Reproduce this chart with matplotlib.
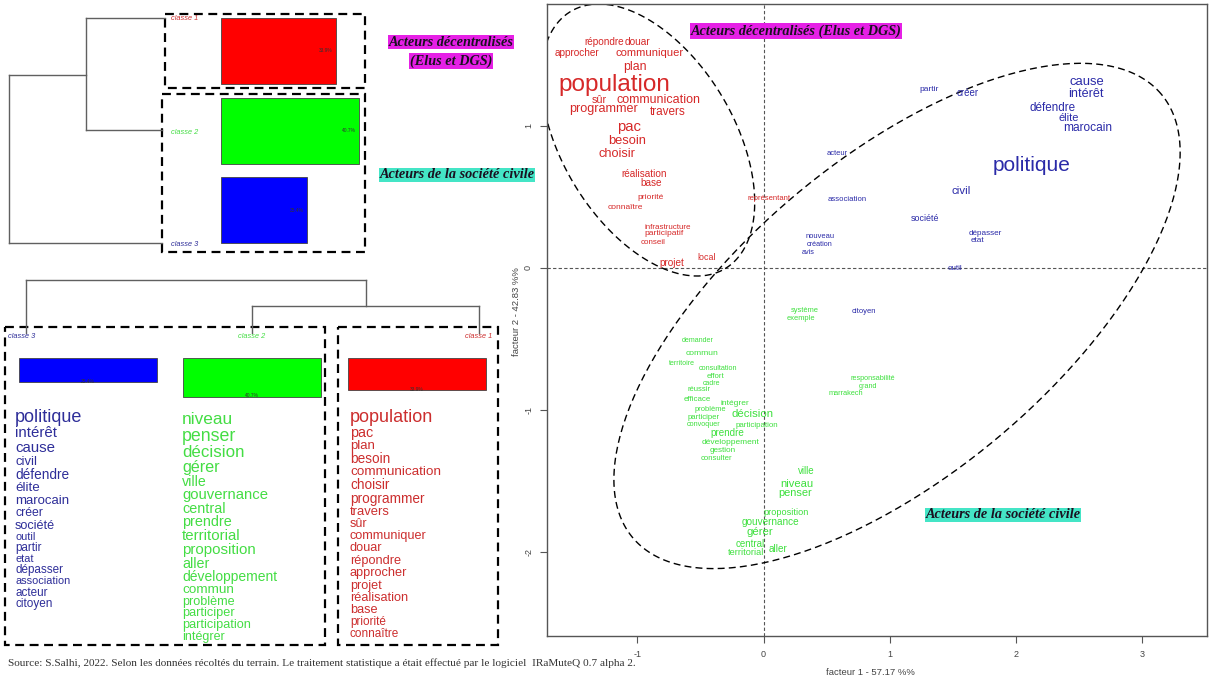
import numpy as np
import matplotlib
matplotlib.use("Agg")
import matplotlib.pyplot as plt
from matplotlib.patches import Rectangle

plt.rcParams['font.family'] = ['Liberation Sans', 'DejaVu Sans']
plt.rcParams['axes.unicode_minus'] = False

# ---------------- data ----------------
class_names = ["classe 1", "classe 2", "classe 3"]
class_pct = [33.9, 40.7, 25.4]
bar_colors = ["#ff0000", "#00ff00", "#0000ff"]
word_colors = ["#cc2e2e", "#44dd44", "#2e2e99"]

# words of each class (profile lists), size ~ chi2 weight
words_c3 = ["politique", "intérêt", "cause", "civil", "défendre", "élite", "marocain", "créer",
            "société", "outil", "partir", "etat", "dépasser", "association", "acteur", "citoyen"]
size_c3 = [13, 10.8, 10.8, 9.4, 9.8, 9.6, 9.5, 8.8, 9.1, 7.9, 8.4, 7.9, 8.4, 7.9, 8.4, 8.5]
words_c2 = ["niveau", "penser", "décision", "gérer", "ville", "gouvernance", "central", "prendre",
            "territorial", "proposition", "aller", "développement", "commun", "problème",
            "participer", "participation", "intégrer"]
size_c2 = [12.4, 12.8, 12.2, 11.6, 10.2, 10.7, 10.4, 10.4, 10.8, 10.8, 10.3, 10, 9.7, 9.1, 9.2, 9.2, 9]
words_c1 = ["population", "pac", "plan", "besoin", "communication", "choisir", "programmer",
            "travers", "sûr", "communiquer", "douar", "répondre", "approcher", "projet",
            "réalisation", "base", "priorité", "connaître"]
size_c1 = [13, 10.4, 9.5, 9.8, 9.7, 9.8, 9.8, 9.4, 9, 9.1, 9.2, 9.2, 9.2, 9.1, 9.2, 9.2, 8.5, 8.5]

# factorial map (facteur 1 / facteur 2)
red_words = ["répondre", "douar", "approcher", "communiquer", "plan", "population", "sûr",
             "communication", "programmer", "travers", "pac", "besoin", "choisir", "réalisation",
             "base", "priorité", "connaître", "infrastructure", "participatif", "conseil", "local",
             "projet", "représentant"]
red_x = [-1.263, -0.994, -1.474, -0.899, -1.017, -1.181, -1.302, -0.835, -1.263, -0.761, -1.068,
         -1.078, -1.163, -0.949, -0.891, -0.896, -1.097, -0.756, -0.790, -0.872, -0.450, -0.722, 0.041]
red_y = [1.589, 1.589, 1.512, 1.512, 1.418, 1.289, 1.183, 1.183, 1.117, 1.101, 0.995, 0.892, 0.803,
         0.660, 0.601, 0.498, 0.427, 0.286, 0.244, 0.181, 0.073, 0.033, 0.486]
red_size = [7.2, 7.3, 7.2, 8.1, 8.9, 17.5, 7.8, 9, 9.1, 8.5, 10.7, 9.3, 9.2, 7.2, 7.2, 6.1, 6.0,
            5.8, 6.1, 5.8, 6.4, 7.2, 5.5]

blue_words = ["partir", "créer", "cause", "intérêt", "défendre", "élite", "marocain", "acteur",
              "politique", "civil", "association", "société", "dépasser", "etat", "nouveau",
              "création", "avis", "outil", "citoyen"]
blue_x = [1.308, 1.619, 2.559, 2.551, 2.292, 2.414, 2.567, 0.587, 2.121, 1.564, 0.661, 1.279,
          1.754, 1.693, 0.450, 0.445, 0.352, 1.519, 0.793]
blue_y = [1.254, 1.235, 1.312, 1.223, 1.129, 1.059, 0.984, 0.808, 0.721, 0.542, 0.479, 0.350,
          0.244, 0.190, 0.221, 0.162, 0.108, -0.007, -0.310]
blue_size = [6, 7, 9.4, 9.1, 8.4, 7.9, 8.6, 5.4, 15, 8.2, 5.6, 6.4, 5.9, 5.9, 5.4, 5.2, 5.2, 5.8, 5.5]

green_words = ["système", "exemple", "demander", "commun", "territoire", "consultation", "effort",
               "cadre", "réussir", "efficace", "intégrer", "problème", "décision", "participer",
               "convoquer", "participation", "prendre", "développement", "gestion", "consulter",
               "responsabilité", "grand", "marrakech", "ville", "niveau", "penser", "proposition",
               "gouvernance", "gérer", "central", "territorial", "aller"]
green_x = [0.326, 0.297, -0.524, -0.487, -0.648, -0.358, -0.381, -0.410, -0.513, -0.524, -0.223,
           -0.418, -0.086, -0.477, -0.474, -0.049, -0.287, -0.260, -0.321, -0.374, 0.862, 0.830,
           0.651, 0.342, 0.263, 0.252, 0.178, 0.054, -0.028, -0.107, -0.139, 0.112]
green_y = [-0.303, -0.354, -0.514, -0.601, -0.671, -0.706, -0.761, -0.812, -0.859, -0.923, -0.953,
           -0.995, -1.030, -1.054, -1.099, -1.106, -1.160, -1.230, -1.287, -1.345, -0.782, -0.836,
           -0.887, -1.427, -1.524, -1.582, -1.723, -1.791, -1.857, -1.944, -2.005, -1.981]
green_size = [5.4, 5.4, 5.1, 6.1, 5.0, 5.2, 5.6, 5.0, 5.5, 5.7, 6.0, 5.4, 8.2, 5.6, 5.2, 5.7, 7.1,
              6.0, 5.9, 5.6, 5.2, 5.2, 5.3, 7.0, 8.0, 7.9, 6.6, 7.2, 8.2, 7.0, 6.6, 7.2]

map_colors = ["#d62828", "#3de03d", "#2a2aa8"]

fig = plt.figure(figsize=(12.12, 6.79), dpi=100)

# ---------------- left part, drawn in pixel space ----------------
ax0 = fig.add_axes([0, 0, 1, 1])
ax0.set_xlim(0, 1212)
ax0.set_ylim(679, 0)
ax0.axis('off')

dend = dict(color='#606060', lw=1)
dash_box = dict(fill=False, ec='black', lw=1.6, ls=(0, (4, 2.5)))
serif_lab = dict(family='Liberation Serif', weight='bold', style='italic', size=10.3,
                 color='#1a1020', ha='center', va='center')

# top: horizontal dendrogram
ax0.plot([9, 9], [75, 243], **dend)
ax0.plot([9, 162], [243, 243], **dend)
ax0.plot([9, 86], [75, 75], **dend)
ax0.plot([86, 86], [18, 130], **dend)
ax0.plot([86, 165], [18, 18], **dend)
ax0.plot([86, 162], [130, 130], **dend)

top_y = [51, 130.5, 210]
bw = [p * 3.39 for p in class_pct]
ax0.barh(top_y, bw, left=221, height=66, color=bar_colors, edgecolor='#444444', lw=0.6)
for yy, w, p in zip(top_y, bw, class_pct):
    ax0.text(221 + w - 3, yy, "%.1f%%" % p, size=3.5, color='#333333', ha='right', va='center')
for yy, name, c in zip([19, 132, 244], class_names, word_colors):
    ax0.text(171, yy, name, size=5.3, style='italic', color=c, ha='left', va='center')

ax0.add_patch(Rectangle((165, 14), 200, 74, **dash_box))
ax0.add_patch(Rectangle((162, 94), 203, 158, **dash_box))

ax0.text(451, 42, "Acteurs décentralisés",
         bbox=dict(fc='#e620e6', ec='none', pad=0.6), **serif_lab)
ax0.text(451, 61, "(Elus et DGS)",
         bbox=dict(fc='#e620e6', ec='none', pad=0.6), **serif_lab)
ax0.text(457, 175, "Acteurs de la société civile",
         bbox=dict(fc='#44e5c6', ec='none', pad=0.6), **serif_lab)

# bottom: vertical dendrogram + class profiles
ax0.plot([26, 26], [280, 333], **dend)
ax0.plot([26, 366], [280, 280], **dend)
ax0.plot([366, 366], [280, 306], **dend)
ax0.plot([252, 479], [306, 306], **dend)
ax0.plot([252, 252], [306, 333], **dend)
ax0.plot([479, 479], [306, 333], **dend)

ax0.add_patch(Rectangle((5, 327), 320, 318, **dash_box))
ax0.add_patch(Rectangle((338, 327), 160, 318, **dash_box))

ax0.text(8, 337, "classe 3", size=5.3, style='italic', color=word_colors[2], ha='left', va='center')
ax0.text(252, 337, "classe 2", size=5.3, style='italic', color=word_colors[1], ha='center', va='center')
ax0.text(492, 337, "classe 1", size=5.3, style='italic', color=word_colors[0], ha='right', va='center')

col_x = [88, 252, 417]
order = [2, 1, 0]
bh = [class_pct[i] * 0.958 for i in order]
ax0.bar(col_x, bh, bottom=358, width=138, color=[bar_colors[i] for i in order],
        edgecolor='#444444', lw=0.6)
for xx, h, i in zip(col_x, bh, order):
    ax0.text(xx, 358 + h - 1, "%.1f%%" % class_pct[i], size=3.5, color='#333333',
             ha='center', va='center')

clip_rect = Rectangle((5, 327), 320, 309, transform=ax0.transData, fill=False, visible=False)
ax0.add_patch(clip_rect)


def word_column(x0, y0, words, sizes, color, step, clip=None):
    y = y0
    for k, (w, s) in enumerate(zip(words, sizes)):
        if k > 0:
            y += step * (sizes[k - 1] + s) / 2 * 100 / 72
        t = ax0.text(x0, y, w, size=s, color=color, ha='left', va='center')
        if clip is not None:
            t.set_clip_path(clip)


word_column(15, 417, words_c3, size_c3, word_colors[2], 0.98)
word_column(182, 420, words_c2, size_c2, word_colors[1], 0.93, clip_rect)
word_column(350, 417, words_c1, size_c1, word_colors[0], 0.97)

fig.text(8 / 1212, 1 - 663 / 679,
         "Source: S.Salhi, 2022. Selon les données récoltés du terrain. Le traitement statistique "
         "a était effectué par le logiciel  IRaMuteQ 0.7 alpha 2.",
         family='Liberation Serif', size=8.1, color='#333333', ha='left', va='center')

# ---------------- factorial map ----------------
ax = fig.add_axes([547 / 1212, 1 - 636 / 679, 660 / 1212, 632 / 679])
ax.set_xlim(-1.714, 3.511)
ax.set_ylim(-2.592, 1.859)
ax.set_xticks([-1, 0, 1, 2, 3])
ax.set_yticks([-2, -1, 0, 1])
ax.tick_params(direction='out', length=5, width=0.8, color='#555555',
               labelsize=6.5, labelcolor='#444444', pad=5)
for lab in ax.get_yticklabels():
    lab.set_rotation(90)
    lab.set_va('center')
for sp in ax.spines.values():
    sp.set_color('#555555')
    sp.set_linewidth(1)
ax.axhline(0, color='#555555', lw=0.8, ls=(0, (3, 2)))
ax.axvline(0, color='#555555', lw=0.8, ls=(0, (3, 2)))
ax.set_xlabel("facteur 1 - 57.17 %%", size=6.8, color='#444444')
ax.set_ylabel("facteur 2 - 42.83 %%", size=6.8, color='#444444')
ax.xaxis.set_label_coords(0.49, -0.05)
ax.yaxis.set_label_coords(-0.040, 0.513)

for ws, xs, ys, ss, c in [(red_words, red_x, red_y, red_size, map_colors[0]),
                          (green_words, green_x, green_y, green_size, map_colors[1]),
                          (blue_words, blue_x, blue_y, blue_size, map_colors[2])]:
    for w, x, y, s in zip(ws, xs, ys, ss):
        ax.text(x, y, w, size=s, color=c, ha='center', va='center')

# ellipses (semi-axes in pixels, converted to data units)
px_x = 660 / (3.511 + 1.714)
px_y = 632 / (1.859 + 2.592)
t = np.linspace(0, 2 * np.pi, 300)
for cx, cy, a, b, ang in [(-0.915, 0.901, 150, 86, -59), (1.057, -0.338, 345, 158, 40)]:
    th = np.deg2rad(ang)
    ex = a * np.cos(t) * np.cos(th) - b * np.sin(t) * np.sin(th)
    ey = a * np.cos(t) * np.sin(th) + b * np.sin(t) * np.cos(th)
    ax.plot(cx + ex / px_x, cy + ey / px_y, color='black', lw=1.0, ls=(0, (5, 3)))

ax.text(0.257, 1.669, "Acteurs décentralisés (Elus et DGS)",
        bbox=dict(fc='#e620e6', ec='none', pad=0.6), **serif_lab)
ax.text(1.896, -1.739, "Acteurs de la société civile",
        bbox=dict(fc='#44e5c6', ec='none', pad=0.6), **serif_lab)

fig.savefig("out.png", dpi=100)
